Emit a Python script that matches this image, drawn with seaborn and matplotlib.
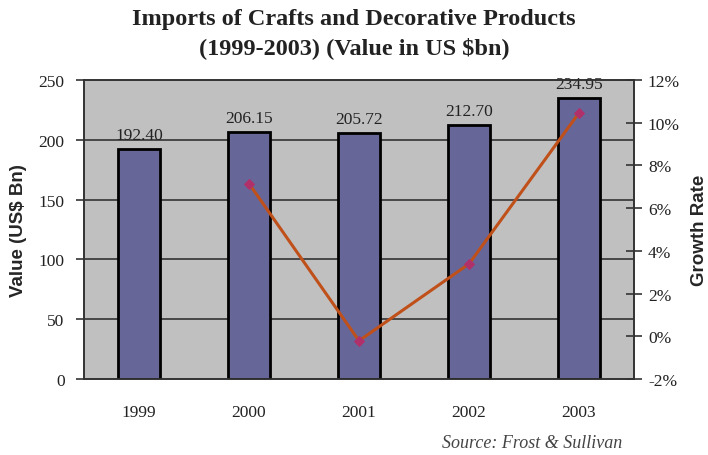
import matplotlib
matplotlib.use("Agg")
import matplotlib.pyplot as plt
import seaborn as sns
import pandas as pd
import numpy as np

years = ["1999", "2000", "2001", "2002", "2003"]
values = [192.40, 206.15, 205.72, 212.70, 234.95]
growth_years = ["2000", "2001", "2002", "2003"]
growth = [7.15, -0.21, 3.39, 10.46]
left_ticks = [0, 50, 100, 150, 200, 250]
right_ticks = [-2, 0, 2, 4, 6, 8, 10, 12]

sns.set_style("white")
plt.rcParams['font.family'] = ['Liberation Serif', 'DejaVu Serif']

df = pd.DataFrame({"year": years, "value": values})
gdf = pd.DataFrame({"pos": [years.index(y) for y in growth_years], "growth": growth})

fig = plt.figure(figsize=(7.08, 4.56), dpi=100)
ax = fig.add_axes([84/708, 76/456, 550/708, 299/456])
ax.set_facecolor("#C0C0C0")

sns.barplot(data=df, x="year", y="value", ax=ax, color="#666699", width=0.38,
            edgecolor="black", linewidth=2, saturation=1, zorder=3)
ax.set_ylim(0, 250)
ax.set_xlim(-0.5, 4.5)
ax.set_yticks(left_ticks)
ax.set_yticklabels([str(t) for t in left_ticks], fontsize=12.5, color="#222222")
for t in left_ticks[1:-1]:
    ax.axhline(t, color="#333333", lw=1.2, zorder=1)
ax.set_xticks(range(len(years)))
ax.set_xticklabels(years, fontsize=12.5, color="#222222")
ax.tick_params(axis="x", length=0, pad=18)
ax.tick_params(axis="y", direction="out", length=6, width=1.2, color="#333333", pad=8)
ax.set_xticks(np.arange(0.5, 4.5, 1.0), minor=True)
ax.tick_params(axis="x", which="minor", direction="inout", length=14, width=1.2, color="#333333")
for s in ax.spines.values():
    s.set_color("#333333")
    s.set_linewidth(1.2)
ax.set_xlabel("")
ax.set_ylabel("Value (US$ Bn)", fontsize=13.5, fontweight="bold",
              family=["Liberation Sans", "DejaVu Sans"], labelpad=8)

for i, v in enumerate(values):
    ax.text(i, v + 5, f"{v:.2f}", ha="center", va="bottom", fontsize=12.5, color="#222222", zorder=5)

ax2 = ax.twinx()
sns.lineplot(data=gdf, x="pos", y="growth", ax=ax2, color="#C0501A", lw=2.2,
             marker="D", markersize=5, markerfacecolor="#B0306A", markeredgecolor="#B0306A",
             zorder=4)
ax2.set_ylim(-2, 12)
ax2.set_xlim(-0.5, 4.5)
ax2.set_yticks(right_ticks)
ax2.set_yticklabels([f"{t}%" for t in right_ticks], fontsize=12.5, color="#222222")
ax2.tick_params(axis="y", direction="inout", length=12, width=1.2, color="#333333", pad=4)
ax2.set_xlabel("")
ax2.set_ylabel("Growth Rate", fontsize=13.5, fontweight="bold",
               family=["Liberation Sans", "DejaVu Sans"], labelpad=8)
for s in ax2.spines.values():
    s.set_color("#333333")
    s.set_linewidth(1.2)

fig.text(0.5, 0.958, "Imports of Crafts and Decorative Products", ha="center", va="center",
         fontsize=17.5, fontweight="bold", color="#222222")
fig.text(0.5, 0.895, "(1999-2003) (Value in US $bn)", ha="center", va="center",
         fontsize=17.5, fontweight="bold", color="#222222")
fig.text(0.625, 0.028, "Source: Frost & Sullivan", ha="left", va="center",
         fontsize=13, style="italic", color="#444444")

fig.savefig("out.png", dpi=100)
